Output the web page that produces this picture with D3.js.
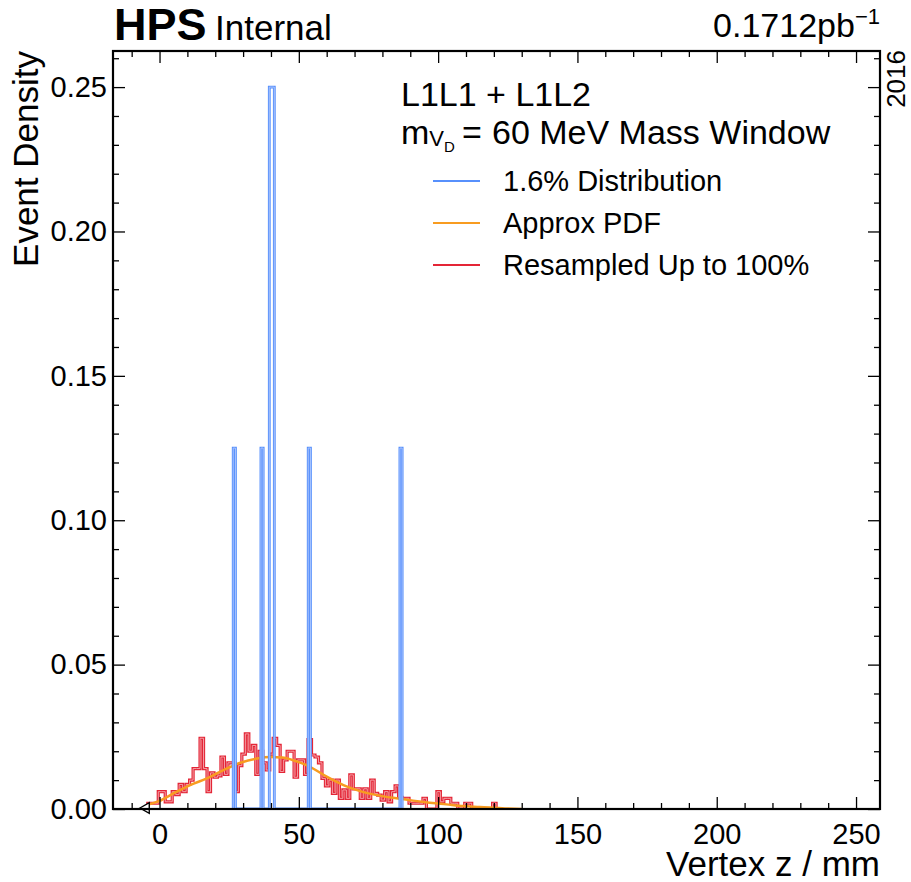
<!DOCTYPE html>
<html>
<head>
<meta charset="utf-8">
<script src="https://cdn.jsdelivr.net/npm/d3@7"></script>
<style>
  body { margin: 0; background: #fff; }
  svg text { font-family: "Liberation Sans", Arial, sans-serif; fill: #000; }
</style>
</head>
<body>
<svg id="chart" width="911" height="882"></svg>
<script>
// ---- data ----
const X_DOMAIN = [-16.7, 258.6];
const Y_DOMAIN = [0, 0.2625];
const X_MAJOR = [0, 50, 100, 150, 200, 250];
const X_MINOR = [-10, 10, 20, 30, 40, 60, 70, 80, 90, 110, 120, 130, 140, 160, 170, 180, 190,
                 210, 220, 230, 240];
const Y_MAJOR = [0, 0.05, 0.10, 0.15, 0.20, 0.25];
const Y_MINOR = [0.01, 0.02, 0.03, 0.04, 0.06, 0.07, 0.08, 0.09, 0.11, 0.12, 0.13, 0.14,
                 0.16, 0.17, 0.18, 0.19, 0.21, 0.22, 0.23, 0.24, 0.26];

// 1.6% sample: [lo edge, hi edge, density]
const BLUE_BINS = [
  [26.45, 27.25, 0.125],
  [36.4, 37.2, 0.125],
  [39.4, 41.2, 0.25],
  [53.37, 54.17, 0.125],
  [86.28, 87.08, 0.125]
];

// resampled histogram, 100 bins of 1.25 mm from -4.2 mm
const RED_START = -4.2;
const RED_WIDTH = 1.25;
const RED_VALUES = [
  0.002, 0.002, 0.002, 0.006, 0.006, 0.0025, 0.0025, 0.006, 0.005, 0.0085,
  0.006, 0.0085, 0.010, 0.014, 0.014, 0.0245, 0.014, 0.006, 0.0125, 0.011,
  0.0115, 0.018, 0.012, 0.016, 0.016, 0.006, 0.015, 0.019, 0.026, 0.020,
  0.022, 0.012, 0.020, 0.016, 0.0135, 0.019, 0.0245, 0.022, 0.013, 0.017,
  0.020, 0.020, 0.011, 0.017, 0.017, 0.012, 0.024, 0.0187, 0.018, 0.016,
  0.0106, 0.008, 0.010, 0.0054, 0.010, 0.0037, 0.0066, 0.0037, 0.0118, 0.007,
  0.007, 0.0037, 0.007, 0.0037, 0.010, 0.0054, 0.0048, 0.0031, 0.006, 0.0025,
  0.006, 0.008, 0.004, 0.0037, 0.0037, 0.002, 0.002, 0.002, 0.002, 0.0037,
  0, 0, 0, 0.006, 0.0025, 0.0037, 0.0037, 0.002, 0.002, 0,
  0, 0.002, 0.002, 0, 0, 0, 0, 0, 0, 0.002
];

// approximate pdf
const PDF_X = [-4.2, 0, 5, 11, 17, 23, 29, 35, 40, 44, 48, 54, 60, 66, 72, 78, 85, 91, 97, 103, 109, 115, 124, 130];
const PDF_Y = [0.0015, 0.0028, 0.0054, 0.0083, 0.0106, 0.0135, 0.016, 0.0175, 0.018, 0.0178, 0.0169, 0.0146,
               0.0112, 0.0083, 0.0062, 0.0048, 0.0037, 0.0029, 0.0022, 0.0016, 0.001, 0.0007, 0.0002, 0];

const MARKER_X = -4.8;

const LEGEND = [
  { label: "1.6% Distribution", color: "#5790fc" },
  { label: "Approx PDF", color: "#f89c20" },
  { label: "Resampled Up to 100%", color: "#e42536" }
];

// ---- layout ----
const L = 113, R = 880, T = 51, B = 809;
const svg = d3.select("#chart");

const x = d3.scaleLinear().domain(X_DOMAIN).range([L, R]);
const y = d3.scaleLinear().domain(Y_DOMAIN).range([B, T]);

const plot = svg.append("g");
plot.append("clipPath").attr("id", "clip")
  .append("rect").attr("x", L).attr("y", T).attr("width", R - L).attr("height", B - T);
const inner = plot.append("g").attr("clip-path", "url(#clip)");

function stepPts(bins) {
  // bins: [lo, hi, v] sorted, build outline along the baseline
  const pts = [];
  bins.forEach(([lo, hi, v]) => {
    pts.push([lo, 0], [lo, v], [hi, v], [hi, 0]);
  });
  return pts;
}
const line = d3.line().x(d => x(d[0])).y(d => y(d[1]));

// red resampled histogram
const redBins = RED_VALUES.map((v, i) => [RED_START + i * RED_WIDTH, RED_START + (i + 1) * RED_WIDTH, v]);
const redPts = [];
redBins.forEach(([lo, hi, v], i) => {
  if (i === 0) redPts.push([lo, 0]);
  redPts.push([lo, v], [hi, v]);
});
redPts.push([redBins[redBins.length - 1][1], 0]);
inner.append("path").attr("d", line(redPts))
  .attr("fill", "none").attr("stroke", "#e42536").attr("stroke-width", 3.2);
inner.append("path").attr("d", line(redPts))
  .attr("fill", "none").attr("stroke", "#f3a0a7").attr("stroke-width", 1);

// orange pdf
const pdfLine = d3.line().x(d => x(d[0])).y(d => y(d[1])).curve(d3.curveMonotoneX);
inner.append("path").attr("d", pdfLine(PDF_X.map((v, i) => [v, PDF_Y[i]])))
  .attr("fill", "none").attr("stroke", "#f89c20").attr("stroke-width", 2.5);

// blue 1.6% histogram
const bluePts = stepPts(BLUE_BINS);
inner.append("path").attr("d", line(bluePts))
  .attr("fill", "none").attr("stroke", "#5790fc").attr("stroke-width", 2.8);
inner.append("path").attr("d", line(bluePts))
  .attr("fill", "none").attr("stroke", "#b3cafd").attr("stroke-width", 0.9);

// open triangle marker at the lower edge
plot.append("path")
  .attr("d", d3.symbol(d3.symbolTriangle, 50)())
  .attr("transform", `translate(${x(MARKER_X)},${y(0) - 1}) rotate(-90)`)
  .attr("fill", "#fff").attr("stroke", "#000").attr("stroke-width", 1.4);

// ---- axes, ticks inward on all four sides ----
function styleAxis(g) {
  g.select(".domain").remove();
  g.selectAll(".tick line").attr("stroke", "#000").attr("stroke-width", 1.3);
  g.selectAll("text").style("font-size", "29px").attr("fill", "#000");
}
svg.append("g").attr("transform", `translate(0,${B})`)
  .call(d3.axisBottom(x).tickValues(X_MAJOR).tickSize(-12).tickPadding(14).tickFormat(d3.format("d")))
  .call(styleAxis);
svg.append("g").attr("transform", `translate(0,${B})`)
  .call(d3.axisBottom(x).tickValues(X_MINOR).tickSize(-6).tickFormat(""))
  .call(styleAxis);
svg.append("g").attr("transform", `translate(0,${T})`)
  .call(d3.axisTop(x).tickValues(X_MAJOR).tickSize(-12).tickFormat(""))
  .call(styleAxis);
svg.append("g").attr("transform", `translate(0,${T})`)
  .call(d3.axisTop(x).tickValues(X_MINOR).tickSize(-6).tickFormat(""))
  .call(styleAxis);
svg.append("g").attr("transform", `translate(${L},0)`)
  .call(d3.axisLeft(y).tickValues(Y_MAJOR).tickSize(-12).tickPadding(6).tickFormat(d3.format(".2f")))
  .call(styleAxis);
svg.append("g").attr("transform", `translate(${L},0)`)
  .call(d3.axisLeft(y).tickValues(Y_MINOR).tickSize(-6).tickFormat(""))
  .call(styleAxis);
svg.append("g").attr("transform", `translate(${R},0)`)
  .call(d3.axisRight(y).tickValues(Y_MAJOR).tickSize(-12).tickFormat(""))
  .call(styleAxis);
svg.append("g").attr("transform", `translate(${R},0)`)
  .call(d3.axisRight(y).tickValues(Y_MINOR).tickSize(-6).tickFormat(""))
  .call(styleAxis);

svg.append("rect").attr("x", L).attr("y", T).attr("width", R - L).attr("height", B - T)
  .attr("fill", "none").attr("stroke", "#000").attr("stroke-width", 2.2);

// ---- axis titles ----
svg.append("text").attr("x", R).attr("y", 876).attr("text-anchor", "end")
  .style("font-size", "35px").text("Vertex z / mm");
svg.append("text").attr("transform", `translate(38,${T}) rotate(-90)`).attr("text-anchor", "end")
  .style("font-size", "35px").text("Event Density");

// ---- header ----
svg.append("text").attr("x", 114).attr("y", 40).style("font-size", "45px").style("font-weight", "bold")
  .text("HPS");
svg.append("text").attr("x", 215).attr("y", 40).style("font-size", "35px").text("Internal");
const lumi = svg.append("text").attr("x", R).attr("y", 37).attr("text-anchor", "end")
  .style("font-size", "34px");
lumi.append("tspan").text("0.1712pb");
lumi.append("tspan").attr("dy", -13).style("font-size", "22px").text("\u22121");
svg.append("text").attr("transform", `translate(905,${T - 1}) rotate(-90)`).attr("text-anchor", "end")
  .style("font-size", "26px").text("2016");

// ---- legend ----
svg.append("text").attr("x", 401).attr("y", 106).style("font-size", "34px").text("L1L1 + L1L2");
const t2 = svg.append("text").attr("x", 401).attr("y", 144).style("font-size", "34px");
t2.append("tspan").text("m");
t2.append("tspan").attr("dy", 2).style("font-size", "22px").text("V");
t2.append("tspan").attr("dy", 6).style("font-size", "15px").text("D");
svg.append("text").attr("x", 462).attr("y", 144).style("font-size", "34px").text("=");
svg.append("text").attr("x", 492).attr("y", 144).style("font-size", "34px").text("60 MeV Mass Window");

const leg = svg.append("g");
LEGEND.forEach((d, i) => {
  const yy = 181 + i * 42;
  leg.append("line").attr("x1", 433).attr("x2", 480).attr("y1", yy).attr("y2", yy)
    .attr("stroke", d.color).attr("stroke-width", 2);
  leg.append("text").attr("x", 503).attr("y", yy + 10).style("font-size", "29px").text(d.label);
});
</script>
</body>
</html>
